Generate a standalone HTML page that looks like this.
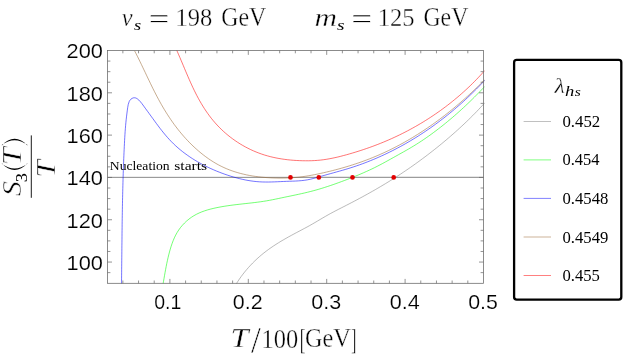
<!DOCTYPE html>
<html><head><meta charset="utf-8"><title>plot</title>
<style>
html,body{margin:0;padding:0;background:#fff;}
body{width:623px;height:360px;overflow:hidden;font-family:"Liberation Sans",sans-serif;}
svg{display:block;}
text{fill:#000;}
.tx{filter:grayscale(1);}
</style></head><body>
<svg width="623" height="360" viewBox="0 0 623 360" style="font-kerning:none">
<rect x="0" y="0" width="623" height="360" fill="#ffffff"/>
<defs><clipPath id="cp"><rect x="107.60" y="50.30" width="377.30" height="233.20"/></clipPath></defs>
<line x1="107.60" y1="177.35" x2="320" y2="177.35" stroke="#555" stroke-width="0.7"/>
<line x1="320" y1="177.4" x2="483.40" y2="177.4" stroke="#9c9c9c" stroke-width="1.15"/>
<g clip-path="url(#cp)" fill="none" stroke-width="0.55" stroke-linejoin="round">
<path d="M236.13,284.14 C236.39,283.72 237.16,282.46 237.69,281.63 C238.23,280.80 238.78,279.98 239.33,279.16 C239.89,278.34 240.46,277.53 241.04,276.73 C241.63,275.92 242.22,275.13 242.82,274.34 C243.43,273.55 244.04,272.76 244.67,271.99 C245.30,271.21 245.93,270.44 246.58,269.68 C247.23,268.92 247.88,268.17 248.55,267.42 C249.21,266.68 249.89,265.94 250.58,265.21 C251.26,264.48 251.96,263.76 252.66,263.04 C253.36,262.33 254.07,261.63 254.79,260.93 C255.51,260.24 256.24,259.55 256.98,258.87 C257.72,258.20 258.46,257.53 259.21,256.87 C259.96,256.21 260.72,255.56 261.49,254.92 C262.26,254.28 263.03,253.65 263.81,253.03 C264.59,252.41 265.38,251.80 266.17,251.20 C266.96,250.60 267.76,250.00 268.56,249.42 C269.37,248.84 270.18,248.26 270.99,247.70 C271.81,247.13 272.63,246.58 273.45,246.03 C274.28,245.48 275.11,244.93 275.94,244.40 C276.78,243.86 277.61,243.33 278.46,242.81 C279.30,242.29 280.15,241.77 280.99,241.26 C281.84,240.75 282.70,240.25 283.55,239.75 C284.41,239.25 285.27,238.76 286.13,238.27 C286.99,237.78 287.86,237.29 288.72,236.81 C289.59,236.33 290.46,235.85 291.33,235.38 C292.19,234.91 293.07,234.44 293.94,233.97 C294.81,233.50 295.69,233.04 296.56,232.57 C297.43,232.11 298.31,231.65 299.19,231.19 C300.06,230.73 300.94,230.27 301.81,229.81 C302.69,229.34 303.57,228.88 304.44,228.42 C305.32,227.95 306.20,227.48 307.07,227.00 C307.95,226.53 308.83,226.05 309.70,225.56 C310.58,225.07 311.46,224.57 312.33,224.06 C313.21,223.56 314.09,223.05 314.96,222.54 C315.84,222.03 316.71,221.51 317.59,220.99 C318.46,220.47 319.34,219.95 320.21,219.44 C321.09,218.92 321.96,218.40 322.84,217.89 C323.71,217.38 324.59,216.86 325.46,216.36 C326.34,215.86 327.21,215.36 328.09,214.86 C328.96,214.37 329.84,213.89 330.71,213.41 C331.59,212.94 332.46,212.47 333.34,212.00 C334.21,211.54 335.09,211.08 335.96,210.63 C336.84,210.17 337.71,209.72 338.59,209.27 C339.46,208.83 340.34,208.38 341.21,207.93 C342.09,207.49 342.96,207.04 343.84,206.60 C344.72,206.15 345.59,205.70 346.47,205.25 C347.34,204.81 348.22,204.35 349.10,203.90 C349.97,203.45 350.85,202.99 351.72,202.54 C352.60,202.08 353.47,201.62 354.35,201.16 C355.23,200.70 356.10,200.24 356.98,199.77 C357.85,199.31 358.73,198.84 359.60,198.37 C360.47,197.90 361.35,197.43 362.22,196.96 C363.09,196.48 363.96,196.01 364.84,195.53 C365.71,195.05 366.58,194.57 367.45,194.09 C368.32,193.60 369.19,193.12 370.05,192.63 C370.92,192.15 371.79,191.66 372.66,191.16 C373.52,190.67 374.39,190.18 375.25,189.68 C376.11,189.19 376.97,188.69 377.84,188.18 C378.70,187.68 379.56,187.18 380.41,186.67 C381.27,186.17 382.13,185.66 382.98,185.14 C383.84,184.63 384.69,184.12 385.54,183.60 C386.39,183.08 387.24,182.56 388.09,182.04 C388.94,181.52 389.79,180.99 390.63,180.47 C391.48,179.94 392.32,179.41 393.16,178.88 C394.00,178.34 394.84,177.81 395.68,177.27 C396.52,176.73 397.35,176.19 398.19,175.65 C399.02,175.10 399.86,174.56 400.69,174.01 C401.52,173.46 402.35,172.91 403.17,172.35 C404.00,171.80 404.83,171.24 405.65,170.68 C406.48,170.12 407.30,169.56 408.12,169.00 C408.94,168.43 409.76,167.87 410.58,167.30 C411.39,166.73 412.21,166.16 413.02,165.58 C413.84,165.01 414.65,164.43 415.46,163.85 C416.27,163.27 417.08,162.69 417.88,162.10 C418.69,161.52 419.50,160.93 420.30,160.34 C421.10,159.75 421.90,159.16 422.70,158.56 C423.50,157.97 424.30,157.37 425.10,156.77 C425.89,156.17 426.69,155.57 427.48,154.96 C428.27,154.36 429.06,153.75 429.85,153.14 C430.64,152.53 431.43,151.92 432.22,151.30 C433.00,150.69 433.79,150.07 434.57,149.45 C435.35,148.83 436.13,148.21 436.91,147.58 C437.69,146.95 438.46,146.33 439.24,145.70 C440.02,145.07 440.79,144.43 441.56,143.80 C442.33,143.16 443.10,142.53 443.87,141.89 C444.64,141.25 445.40,140.60 446.17,139.96 C446.93,139.31 447.69,138.67 448.45,138.02 C449.21,137.37 449.97,136.71 450.72,136.06 C451.48,135.40 452.23,134.75 452.98,134.09 C453.73,133.43 454.48,132.76 455.23,132.10 C455.97,131.43 456.72,130.77 457.46,130.10 C458.20,129.43 458.94,128.76 459.67,128.08 C460.41,127.41 461.14,126.73 461.87,126.05 C462.60,125.37 463.33,124.69 464.05,124.01 C464.78,123.32 465.50,122.64 466.22,121.95 C466.94,121.26 467.65,120.57 468.36,119.88 C469.08,119.18 469.79,118.49 470.49,117.79 C471.20,117.09 471.90,116.39 472.60,115.69 C473.30,114.98 474.00,114.28 474.69,113.57 C475.39,112.86 476.08,112.15 476.77,111.44 C477.45,110.73 478.14,110.01 478.81,109.29 C479.49,108.58 480.17,107.86 480.84,107.14 C481.52,106.41 482.18,105.69 482.85,104.96 C483.51,104.24 484.50,103.14 484.83,102.78" stroke="#808080"/>
<path d="M163.01,284.19 C163.10,283.71 163.36,282.24 163.53,281.26 C163.70,280.29 163.87,279.31 164.04,278.33 C164.21,277.35 164.38,276.37 164.55,275.39 C164.72,274.41 164.89,273.43 165.07,272.45 C165.25,271.47 165.42,270.49 165.60,269.51 C165.79,268.53 165.97,267.55 166.16,266.58 C166.35,265.60 166.54,264.62 166.74,263.64 C166.94,262.67 167.15,261.69 167.36,260.72 C167.57,259.74 167.79,258.77 168.02,257.80 C168.24,256.83 168.47,255.85 168.72,254.89 C168.96,253.92 169.21,252.95 169.47,251.98 C169.73,251.02 170.00,250.06 170.29,249.10 C170.57,248.14 170.86,247.18 171.17,246.22 C171.48,245.27 171.80,244.32 172.14,243.38 C172.47,242.44 172.82,241.50 173.20,240.58 C173.57,239.65 173.96,238.73 174.37,237.82 C174.79,236.92 175.22,236.02 175.67,235.14 C176.13,234.25 176.61,233.38 177.12,232.52 C177.62,231.67 178.16,230.82 178.72,230.00 C179.28,229.17 179.87,228.36 180.48,227.57 C181.10,226.78 181.74,226.00 182.41,225.25 C183.07,224.50 183.76,223.76 184.47,223.05 C185.18,222.34 185.91,221.65 186.66,220.99 C187.41,220.32 188.18,219.68 188.97,219.07 C189.76,218.46 190.56,217.87 191.38,217.31 C192.19,216.75 193.03,216.22 193.87,215.72 C194.71,215.21 195.57,214.74 196.43,214.29 C197.30,213.84 198.18,213.42 199.07,213.02 C199.96,212.62 200.86,212.24 201.77,211.89 C202.68,211.53 203.60,211.20 204.52,210.88 C205.45,210.56 206.39,210.27 207.33,209.98 C208.27,209.70 209.22,209.44 210.18,209.18 C211.14,208.93 212.10,208.69 213.07,208.47 C214.04,208.24 215.02,208.02 216.00,207.82 C216.98,207.61 217.96,207.41 218.95,207.22 C219.94,207.03 220.93,206.85 221.92,206.68 C222.92,206.50 223.92,206.34 224.91,206.18 C225.91,206.02 226.91,205.87 227.91,205.73 C228.92,205.58 229.92,205.44 230.92,205.31 C231.92,205.17 232.92,205.04 233.92,204.92 C234.92,204.79 235.92,204.67 236.92,204.55 C237.92,204.43 238.92,204.32 239.92,204.21 C240.91,204.09 241.91,203.98 242.90,203.87 C243.90,203.76 244.89,203.65 245.88,203.54 C246.88,203.43 247.87,203.33 248.86,203.21 C249.85,203.10 250.84,202.99 251.83,202.88 C252.82,202.76 253.81,202.64 254.80,202.52 C255.78,202.40 256.77,202.28 257.76,202.15 C258.74,202.02 259.73,201.89 260.71,201.75 C261.69,201.61 262.68,201.46 263.66,201.31 C264.64,201.16 265.63,201.00 266.61,200.83 C267.59,200.66 268.57,200.49 269.55,200.31 C270.53,200.12 271.51,199.93 272.49,199.74 C273.46,199.55 274.44,199.35 275.42,199.15 C276.39,198.95 277.37,198.74 278.35,198.54 C279.32,198.33 280.30,198.13 281.27,197.92 C282.25,197.72 283.22,197.51 284.19,197.31 C285.17,197.10 286.14,196.90 287.11,196.70 C288.08,196.50 289.05,196.30 290.02,196.10 C290.99,195.89 291.96,195.69 292.93,195.49 C293.90,195.29 294.87,195.09 295.84,194.88 C296.81,194.67 297.77,194.47 298.74,194.26 C299.70,194.05 300.67,193.84 301.63,193.62 C302.60,193.40 303.56,193.19 304.52,192.96 C305.49,192.74 306.45,192.51 307.41,192.28 C308.37,192.04 309.33,191.81 310.29,191.56 C311.25,191.32 312.21,191.07 313.17,190.81 C314.12,190.55 315.08,190.29 316.03,190.02 C316.99,189.75 317.94,189.47 318.90,189.19 C319.85,188.91 320.80,188.63 321.75,188.34 C322.71,188.04 323.66,187.75 324.60,187.45 C325.55,187.14 326.50,186.84 327.45,186.53 C328.40,186.22 329.34,185.90 330.29,185.58 C331.23,185.26 332.17,184.94 333.12,184.61 C334.06,184.28 335.00,183.95 335.94,183.62 C336.88,183.28 337.82,182.94 338.76,182.60 C339.69,182.26 340.63,181.92 341.56,181.57 C342.50,181.22 343.43,180.87 344.36,180.52 C345.30,180.17 346.23,179.81 347.16,179.46 C348.09,179.10 349.01,178.74 349.94,178.37 C350.87,178.01 351.79,177.64 352.72,177.27 C353.64,176.90 354.56,176.53 355.48,176.15 C356.41,175.77 357.33,175.39 358.24,175.01 C359.16,174.62 360.08,174.24 360.99,173.85 C361.91,173.45 362.82,173.06 363.73,172.66 C364.65,172.26 365.56,171.86 366.46,171.45 C367.37,171.04 368.28,170.63 369.19,170.21 C370.09,169.79 371.00,169.37 371.90,168.94 C372.80,168.51 373.70,168.07 374.60,167.63 C375.50,167.18 376.40,166.73 377.29,166.28 C378.19,165.82 379.08,165.35 379.97,164.89 C380.86,164.42 381.75,163.94 382.64,163.47 C383.53,162.99 384.42,162.51 385.30,162.02 C386.19,161.54 387.07,161.05 387.95,160.57 C388.83,160.08 389.71,159.59 390.59,159.10 C391.47,158.61 392.34,158.12 393.22,157.64 C394.09,157.15 394.96,156.66 395.83,156.18 C396.70,155.69 397.57,155.21 398.43,154.73 C399.30,154.24 400.16,153.76 401.02,153.28 C401.89,152.80 402.75,152.32 403.60,151.83 C404.46,151.35 405.32,150.87 406.17,150.38 C407.02,149.89 407.87,149.40 408.72,148.91 C409.57,148.42 410.42,147.92 411.26,147.42 C412.11,146.92 412.95,146.41 413.79,145.90 C414.63,145.39 415.47,144.87 416.31,144.35 C417.14,143.82 417.98,143.29 418.81,142.76 C419.64,142.22 420.47,141.68 421.30,141.14 C422.12,140.59 422.95,140.04 423.77,139.48 C424.59,138.92 425.41,138.36 426.23,137.79 C427.05,137.23 427.86,136.65 428.68,136.08 C429.49,135.50 430.30,134.92 431.11,134.33 C431.91,133.75 432.72,133.16 433.52,132.56 C434.33,131.97 435.13,131.37 435.93,130.76 C436.72,130.16 437.52,129.55 438.31,128.94 C439.11,128.33 439.90,127.72 440.68,127.10 C441.47,126.48 442.26,125.86 443.04,125.24 C443.82,124.61 444.60,123.98 445.38,123.35 C446.16,122.72 446.93,122.09 447.70,121.45 C448.48,120.81 449.25,120.17 450.01,119.53 C450.78,118.88 451.54,118.23 452.31,117.58 C453.07,116.93 453.83,116.28 454.58,115.62 C455.34,114.97 456.09,114.31 456.84,113.65 C457.59,112.98 458.34,112.32 459.08,111.65 C459.83,110.98 460.57,110.31 461.31,109.64 C462.05,108.96 462.78,108.29 463.52,107.61 C464.25,106.93 464.98,106.25 465.71,105.57 C466.43,104.88 467.16,104.20 467.88,103.51 C468.60,102.82 469.32,102.13 470.04,101.44 C470.75,100.74 471.46,100.05 472.17,99.35 C472.88,98.65 473.59,97.95 474.29,97.25 C475.00,96.55 475.70,95.84 476.39,95.14 C477.09,94.43 477.78,93.72 478.47,93.01 C479.16,92.30 479.85,91.59 480.54,90.88 C481.22,90.17 481.90,89.45 482.58,88.73 C483.26,88.01 484.27,86.93 484.61,86.57" stroke="#00ff00"/>
<path d="M121.52,284.21 C121.52,283.71 121.54,282.21 121.55,281.21 C121.56,280.21 121.57,279.21 121.58,278.21 C121.59,277.21 121.60,276.21 121.62,275.21 C121.63,274.22 121.64,273.22 121.65,272.22 C121.65,271.22 121.66,270.22 121.67,269.22 C121.68,268.22 121.69,267.23 121.70,266.23 C121.71,265.23 121.72,264.23 121.73,263.23 C121.74,262.24 121.75,261.24 121.76,260.24 C121.77,259.24 121.78,258.24 121.79,257.25 C121.80,256.25 121.81,255.25 121.82,254.25 C121.83,253.26 121.84,252.26 121.85,251.26 C121.86,250.26 121.86,249.26 121.87,248.27 C121.88,247.27 121.89,246.27 121.90,245.27 C121.91,244.28 121.92,243.28 121.94,242.28 C121.95,241.29 121.96,240.29 121.97,239.29 C121.98,238.29 121.99,237.30 122.00,236.30 C122.01,235.30 122.02,234.31 122.03,233.31 C122.04,232.31 122.06,231.31 122.07,230.32 C122.08,229.32 122.09,228.32 122.11,227.33 C122.12,226.33 122.13,225.33 122.14,224.34 C122.16,223.34 122.17,222.34 122.18,221.34 C122.20,220.35 122.21,219.35 122.23,218.35 C122.24,217.36 122.26,216.36 122.27,215.36 C122.29,214.37 122.30,213.37 122.32,212.37 C122.34,211.38 122.35,210.38 122.37,209.38 C122.39,208.38 122.40,207.39 122.42,206.39 C122.44,205.39 122.46,204.40 122.48,203.40 C122.50,202.40 122.51,201.41 122.53,200.41 C122.55,199.41 122.58,198.41 122.60,197.42 C122.62,196.42 122.64,195.42 122.66,194.43 C122.68,193.43 122.71,192.43 122.73,191.43 C122.75,190.44 122.78,189.44 122.80,188.44 C122.83,187.45 122.85,186.45 122.88,185.45 C122.90,184.45 122.93,183.46 122.96,182.46 C122.99,181.46 123.01,180.46 123.04,179.47 C123.07,178.47 123.10,177.47 123.13,176.47 C123.16,175.48 123.19,174.48 123.22,173.48 C123.26,172.48 123.29,171.48 123.32,170.49 C123.35,169.49 123.39,168.49 123.42,167.49 C123.46,166.49 123.49,165.50 123.53,164.50 C123.57,163.50 123.61,162.50 123.64,161.50 C123.68,160.51 123.72,159.51 123.76,158.51 C123.80,157.51 123.84,156.51 123.88,155.51 C123.93,154.51 123.97,153.52 124.01,152.52 C124.06,151.52 124.10,150.52 124.15,149.52 C124.19,148.52 124.24,147.52 124.29,146.52 C124.34,145.52 124.39,144.52 124.44,143.52 C124.49,142.53 124.54,141.53 124.59,140.53 C124.65,139.53 124.70,138.53 124.76,137.54 C124.82,136.54 124.88,135.54 124.94,134.55 C125.01,133.56 125.07,132.56 125.14,131.57 C125.21,130.58 125.28,129.59 125.36,128.61 C125.44,127.62 125.52,126.64 125.60,125.65 C125.69,124.67 125.77,123.69 125.87,122.72 C125.96,121.74 126.06,120.77 126.16,119.80 C126.27,118.83 126.37,117.86 126.49,116.89 C126.60,115.91 126.72,114.93 126.85,113.94 C126.97,112.94 127.10,111.93 127.24,110.89 C127.38,109.86 127.51,108.79 127.67,107.71 C127.84,106.64 127.98,105.49 128.24,104.46 C128.49,103.42 128.77,102.36 129.22,101.47 C129.67,100.59 130.27,99.76 130.93,99.16 C131.60,98.57 132.46,98.09 133.24,97.89 C134.01,97.69 134.82,97.74 135.59,97.95 C136.35,98.17 137.08,98.64 137.80,99.18 C138.52,99.71 139.22,100.43 139.90,101.16 C140.59,101.90 141.25,102.75 141.91,103.60 C142.56,104.44 143.20,105.35 143.83,106.22 C144.46,107.09 145.08,107.96 145.69,108.80 C146.31,109.64 146.91,110.46 147.51,111.28 C148.11,112.10 148.71,112.92 149.31,113.73 C149.90,114.55 150.49,115.37 151.09,116.19 C151.68,117.00 152.27,117.82 152.86,118.64 C153.45,119.45 154.04,120.26 154.63,121.07 C155.22,121.88 155.81,122.69 156.40,123.49 C156.99,124.30 157.59,125.10 158.18,125.89 C158.78,126.69 159.38,127.48 159.98,128.27 C160.59,129.06 161.20,129.84 161.81,130.62 C162.42,131.40 163.04,132.17 163.66,132.93 C164.29,133.70 164.92,134.46 165.55,135.21 C166.19,135.96 166.83,136.71 167.49,137.45 C168.14,138.18 168.80,138.92 169.47,139.64 C170.14,140.36 170.82,141.07 171.50,141.77 C172.19,142.48 172.89,143.17 173.60,143.86 C174.31,144.54 175.03,145.22 175.76,145.88 C176.49,146.55 177.22,147.21 177.97,147.86 C178.72,148.51 179.47,149.14 180.24,149.77 C181.00,150.41 181.78,151.03 182.56,151.64 C183.34,152.25 184.13,152.85 184.93,153.45 C185.73,154.04 186.53,154.63 187.35,155.20 C188.16,155.78 188.98,156.34 189.81,156.90 C190.64,157.46 191.48,158.01 192.32,158.55 C193.16,159.09 194.01,159.62 194.87,160.15 C195.72,160.67 196.58,161.18 197.45,161.69 C198.32,162.19 199.19,162.69 200.07,163.18 C200.95,163.66 201.84,164.14 202.73,164.61 C203.62,165.08 204.52,165.54 205.42,166.00 C206.32,166.45 207.22,166.89 208.13,167.33 C209.04,167.76 209.96,168.19 210.88,168.61 C211.80,169.03 212.72,169.44 213.64,169.84 C214.57,170.24 215.50,170.63 216.43,171.02 C217.37,171.40 218.30,171.78 219.24,172.15 C220.18,172.51 221.13,172.87 222.07,173.22 C223.02,173.58 223.96,173.92 224.91,174.25 C225.86,174.59 226.81,174.91 227.77,175.23 C228.72,175.55 229.68,175.86 230.63,176.16 C231.59,176.46 232.55,176.75 233.51,177.03 C234.47,177.31 235.43,177.58 236.40,177.84 C237.36,178.10 238.32,178.35 239.29,178.59 C240.26,178.83 241.23,179.06 242.20,179.28 C243.17,179.50 244.14,179.71 245.11,179.90 C246.08,180.09 247.05,180.28 248.03,180.45 C249.00,180.62 249.98,180.77 250.96,180.92 C251.93,181.06 252.91,181.19 253.89,181.31 C254.87,181.43 255.85,181.53 256.83,181.62 C257.81,181.71 258.79,181.78 259.78,181.84 C260.76,181.90 261.74,181.94 262.73,181.98 C263.71,182.01 264.70,182.02 265.68,182.03 C266.67,182.04 267.66,182.03 268.64,182.02 C269.63,182.01 270.62,181.99 271.61,181.96 C272.59,181.94 273.58,181.90 274.57,181.86 C275.56,181.83 276.55,181.78 277.54,181.74 C278.53,181.70 279.52,181.65 280.51,181.60 C281.50,181.56 282.49,181.51 283.48,181.47 C284.47,181.43 285.46,181.39 286.45,181.35 C287.45,181.32 288.44,181.29 289.43,181.26 C290.42,181.22 291.41,181.20 292.40,181.16 C293.39,181.13 294.38,181.09 295.37,181.05 C296.36,181.00 297.35,180.95 298.34,180.89 C299.33,180.82 300.32,180.75 301.31,180.65 C302.30,180.56 303.29,180.45 304.27,180.32 C305.26,180.19 306.25,180.05 307.24,179.87 C308.22,179.70 309.21,179.49 310.20,179.28 C311.18,179.06 312.17,178.81 313.15,178.55 C314.14,178.30 315.12,178.02 316.10,177.75 C317.08,177.47 318.07,177.18 319.05,176.89 C320.03,176.61 321.01,176.32 321.99,176.03 C322.97,175.75 323.94,175.47 324.92,175.19 C325.90,174.91 326.87,174.64 327.85,174.37 C328.82,174.10 329.79,173.83 330.77,173.56 C331.74,173.29 332.71,173.02 333.68,172.75 C334.65,172.49 335.61,172.22 336.58,171.95 C337.55,171.68 338.51,171.41 339.47,171.14 C340.44,170.87 341.40,170.60 342.36,170.32 C343.32,170.04 344.28,169.77 345.23,169.48 C346.19,169.20 347.14,168.91 348.10,168.62 C349.05,168.33 350.00,168.03 350.95,167.73 C351.90,167.42 352.85,167.12 353.79,166.80 C354.74,166.49 355.68,166.17 356.62,165.85 C357.57,165.53 358.50,165.20 359.44,164.86 C360.38,164.53 361.32,164.19 362.25,163.85 C363.18,163.50 364.12,163.16 365.05,162.80 C365.98,162.45 366.90,162.09 367.83,161.73 C368.75,161.36 369.68,161.00 370.60,160.62 C371.52,160.25 372.44,159.87 373.36,159.49 C374.28,159.11 375.19,158.72 376.11,158.33 C377.02,157.93 377.93,157.54 378.84,157.13 C379.75,156.73 380.66,156.33 381.56,155.91 C382.47,155.50 383.37,155.09 384.27,154.67 C385.17,154.25 386.07,153.82 386.97,153.39 C387.87,152.96 388.76,152.53 389.65,152.09 C390.54,151.65 391.43,151.20 392.32,150.75 C393.21,150.31 394.10,149.85 394.98,149.40 C395.86,148.94 396.74,148.48 397.62,148.01 C398.50,147.55 399.38,147.07 400.25,146.60 C401.13,146.13 402.00,145.65 402.87,145.16 C403.74,144.68 404.60,144.19 405.47,143.70 C406.33,143.21 407.20,142.71 408.06,142.21 C408.92,141.71 409.78,141.20 410.63,140.69 C411.49,140.18 412.34,139.67 413.19,139.15 C414.04,138.64 414.89,138.11 415.74,137.59 C416.58,137.06 417.43,136.53 418.27,136.00 C419.11,135.46 419.95,134.93 420.78,134.38 C421.62,133.84 422.45,133.30 423.28,132.75 C424.12,132.20 424.94,131.64 425.77,131.08 C426.60,130.53 427.42,129.96 428.24,129.40 C429.06,128.83 429.88,128.26 430.70,127.69 C431.51,127.11 432.33,126.54 433.14,125.96 C433.95,125.37 434.76,124.79 435.56,124.20 C436.37,123.61 437.17,123.02 437.97,122.42 C438.77,121.83 439.57,121.23 440.37,120.62 C441.16,120.02 441.95,119.41 442.74,118.80 C443.53,118.19 444.32,117.58 445.11,116.96 C445.89,116.34 446.67,115.72 447.45,115.09 C448.23,114.47 449.01,113.84 449.78,113.21 C450.56,112.57 451.33,111.94 452.09,111.30 C452.86,110.66 453.63,110.02 454.39,109.37 C455.15,108.72 455.91,108.08 456.67,107.42 C457.43,106.77 458.18,106.11 458.93,105.45 C459.68,104.79 460.43,104.13 461.18,103.47 C461.92,102.80 462.67,102.13 463.41,101.46 C464.15,100.79 464.88,100.11 465.62,99.43 C466.35,98.75 467.08,98.07 467.81,97.38 C468.54,96.70 469.27,96.01 469.99,95.32 C470.71,94.63 471.43,93.93 472.15,93.24 C472.86,92.54 473.58,91.84 474.29,91.13 C475.00,90.43 475.71,89.72 476.41,89.02 C477.11,88.31 477.82,87.59 478.52,86.88 C479.21,86.16 479.91,85.44 480.60,84.72 C481.29,84.00 481.98,83.28 482.67,82.55 C483.36,81.82 484.38,80.73 484.72,80.36" stroke="#0000ff"/>
<path d="M134.65,50.91 C134.89,51.36 135.58,52.71 136.04,53.61 C136.49,54.51 136.95,55.41 137.40,56.31 C137.85,57.21 138.29,58.11 138.74,59.01 C139.18,59.92 139.62,60.82 140.06,61.72 C140.50,62.63 140.94,63.53 141.37,64.43 C141.81,65.34 142.24,66.24 142.67,67.14 C143.10,68.05 143.53,68.95 143.96,69.86 C144.39,70.76 144.82,71.66 145.25,72.56 C145.68,73.47 146.11,74.37 146.53,75.27 C146.96,76.17 147.39,77.07 147.82,77.97 C148.25,78.87 148.68,79.77 149.11,80.67 C149.54,81.57 149.97,82.47 150.41,83.36 C150.84,84.26 151.27,85.15 151.71,86.05 C152.15,86.94 152.59,87.83 153.03,88.72 C153.47,89.61 153.92,90.50 154.37,91.39 C154.81,92.27 155.27,93.16 155.72,94.04 C156.18,94.92 156.63,95.80 157.10,96.68 C157.56,97.56 158.03,98.43 158.50,99.31 C158.97,100.18 159.45,101.05 159.93,101.92 C160.41,102.79 160.89,103.65 161.39,104.51 C161.88,105.37 162.37,106.23 162.88,107.09 C163.38,107.95 163.89,108.80 164.40,109.65 C164.91,110.50 165.43,111.34 165.96,112.19 C166.48,113.03 167.01,113.87 167.55,114.70 C168.08,115.54 168.63,116.37 169.18,117.20 C169.72,118.03 170.28,118.85 170.84,119.67 C171.40,120.49 171.97,121.31 172.54,122.12 C173.12,122.93 173.70,123.73 174.28,124.54 C174.87,125.34 175.46,126.14 176.07,126.93 C176.67,127.72 177.27,128.51 177.89,129.29 C178.50,130.07 179.12,130.85 179.75,131.62 C180.38,132.40 181.02,133.17 181.66,133.93 C182.31,134.69 182.96,135.45 183.61,136.20 C184.27,136.95 184.94,137.69 185.61,138.43 C186.29,139.17 186.97,139.91 187.66,140.63 C188.35,141.36 189.05,142.08 189.75,142.80 C190.46,143.51 191.17,144.22 191.89,144.93 C192.62,145.63 193.35,146.33 194.09,147.02 C194.82,147.71 195.57,148.39 196.33,149.07 C197.08,149.74 197.85,150.41 198.62,151.07 C199.39,151.73 200.17,152.38 200.96,153.03 C201.75,153.67 202.55,154.30 203.35,154.93 C204.15,155.55 204.96,156.17 205.78,156.77 C206.60,157.37 207.43,157.97 208.26,158.55 C209.09,159.13 209.93,159.70 210.78,160.26 C211.62,160.81 212.47,161.36 213.33,161.89 C214.19,162.42 215.06,162.94 215.93,163.44 C216.80,163.95 217.67,164.44 218.56,164.91 C219.44,165.38 220.33,165.84 221.22,166.29 C222.12,166.73 223.02,167.16 223.92,167.57 C224.82,167.99 225.73,168.38 226.65,168.77 C227.56,169.15 228.48,169.52 229.40,169.87 C230.33,170.23 231.26,170.57 232.19,170.90 C233.12,171.23 234.06,171.54 235.00,171.84 C235.94,172.14 236.89,172.43 237.83,172.70 C238.78,172.98 239.73,173.24 240.69,173.49 C241.65,173.74 242.60,173.98 243.57,174.20 C244.53,174.43 245.49,174.64 246.46,174.85 C247.43,175.05 248.40,175.24 249.37,175.42 C250.35,175.60 251.32,175.77 252.30,175.93 C253.28,176.09 254.26,176.24 255.24,176.38 C256.22,176.52 257.21,176.65 258.19,176.77 C259.18,176.89 260.16,177.01 261.15,177.11 C262.14,177.21 263.13,177.30 264.12,177.39 C265.11,177.47 266.11,177.55 267.10,177.62 C268.09,177.69 269.08,177.75 270.08,177.80 C271.07,177.85 272.07,177.90 273.06,177.94 C274.06,177.98 275.05,178.01 276.05,178.03 C277.04,178.05 278.04,178.07 279.03,178.08 C280.03,178.09 281.02,178.09 282.02,178.08 C283.01,178.08 284.01,178.06 285.00,178.04 C285.99,178.02 286.99,177.98 287.98,177.94 C288.98,177.90 289.97,177.85 290.97,177.80 C291.96,177.74 292.95,177.67 293.95,177.59 C294.94,177.52 295.93,177.43 296.93,177.33 C297.92,177.24 298.91,177.13 299.90,177.02 C300.90,176.90 301.89,176.77 302.88,176.64 C303.87,176.50 304.86,176.36 305.85,176.21 C306.84,176.05 307.83,175.89 308.82,175.72 C309.81,175.55 310.79,175.38 311.78,175.19 C312.77,175.01 313.75,174.82 314.74,174.63 C315.72,174.43 316.71,174.23 317.69,174.02 C318.68,173.82 319.66,173.61 320.64,173.39 C321.62,173.18 322.60,172.96 323.58,172.74 C324.56,172.51 325.54,172.29 326.52,172.06 C327.50,171.83 328.47,171.59 329.45,171.35 C330.43,171.12 331.40,170.87 332.37,170.63 C333.35,170.38 334.32,170.13 335.29,169.88 C336.26,169.62 337.23,169.37 338.20,169.10 C339.16,168.84 340.13,168.57 341.09,168.30 C342.06,168.03 343.02,167.76 343.99,167.48 C344.95,167.20 345.91,166.92 346.87,166.63 C347.83,166.34 348.78,166.05 349.74,165.75 C350.69,165.45 351.65,165.15 352.60,164.85 C353.55,164.54 354.50,164.23 355.45,163.92 C356.40,163.60 357.35,163.28 358.29,162.96 C359.24,162.63 360.18,162.30 361.12,161.97 C362.06,161.63 363.00,161.30 363.94,160.95 C364.88,160.61 365.81,160.26 366.75,159.91 C367.68,159.55 368.61,159.20 369.54,158.83 C370.47,158.47 371.40,158.10 372.32,157.73 C373.24,157.35 374.17,156.98 375.09,156.59 C376.01,156.21 376.92,155.82 377.84,155.43 C378.76,155.03 379.67,154.63 380.58,154.23 C381.49,153.82 382.40,153.42 383.31,153.00 C384.21,152.59 385.12,152.17 386.02,151.74 C386.92,151.32 387.82,150.89 388.72,150.46 C389.61,150.03 390.51,149.59 391.40,149.14 C392.29,148.70 393.18,148.25 394.07,147.80 C394.96,147.35 395.84,146.89 396.73,146.43 C397.61,145.97 398.49,145.50 399.37,145.03 C400.25,144.56 401.12,144.08 402.00,143.60 C402.87,143.12 403.74,142.64 404.61,142.15 C405.48,141.66 406.34,141.17 407.21,140.67 C408.07,140.17 408.93,139.67 409.79,139.16 C410.65,138.66 411.51,138.15 412.36,137.63 C413.22,137.12 414.07,136.60 414.92,136.07 C415.77,135.55 416.62,135.02 417.46,134.49 C418.31,133.96 419.15,133.43 419.99,132.89 C420.83,132.35 421.67,131.81 422.50,131.26 C423.34,130.71 424.17,130.16 425.00,129.60 C425.83,129.05 426.66,128.49 427.49,127.93 C428.31,127.37 429.13,126.80 429.96,126.23 C430.78,125.66 431.59,125.09 432.41,124.51 C433.23,123.93 434.04,123.35 434.85,122.77 C435.66,122.18 436.47,121.59 437.28,121.00 C438.08,120.41 438.89,119.81 439.69,119.22 C440.49,118.62 441.29,118.01 442.08,117.41 C442.88,116.80 443.67,116.20 444.46,115.58 C445.25,114.97 446.04,114.36 446.83,113.74 C447.61,113.12 448.40,112.50 449.18,111.87 C449.96,111.25 450.74,110.62 451.52,109.99 C452.29,109.36 453.07,108.72 453.84,108.09 C454.61,107.45 455.38,106.81 456.14,106.16 C456.91,105.52 457.67,104.87 458.43,104.23 C459.19,103.58 459.95,102.92 460.71,102.27 C461.46,101.62 462.22,100.96 462.97,100.30 C463.72,99.64 464.47,98.97 465.21,98.31 C465.96,97.64 466.70,96.97 467.44,96.30 C468.18,95.63 468.92,94.96 469.66,94.28 C470.39,93.61 471.13,92.93 471.86,92.25 C472.59,91.57 473.32,90.88 474.04,90.20 C474.77,89.51 475.49,88.82 476.21,88.13 C476.93,87.44 477.65,86.75 478.36,86.05 C479.08,85.36 479.79,84.66 480.50,83.96 C481.21,83.26 481.92,82.56 482.62,81.86 C483.32,81.15 484.37,80.09 484.73,79.74" stroke="#996633"/>
<path d="M176.36,49.51 C176.56,49.95 177.16,51.28 177.56,52.17 C177.95,53.06 178.34,53.95 178.73,54.85 C179.13,55.75 179.51,56.65 179.90,57.55 C180.29,58.45 180.67,59.36 181.06,60.26 C181.44,61.17 181.83,62.08 182.21,62.99 C182.59,63.90 182.98,64.81 183.36,65.72 C183.74,66.63 184.13,67.55 184.51,68.46 C184.90,69.38 185.28,70.29 185.67,71.21 C186.06,72.12 186.44,73.04 186.84,73.95 C187.23,74.87 187.62,75.78 188.01,76.70 C188.41,77.61 188.81,78.53 189.21,79.44 C189.61,80.35 190.01,81.26 190.42,82.17 C190.83,83.08 191.24,83.99 191.66,84.90 C192.07,85.81 192.49,86.71 192.92,87.61 C193.34,88.51 193.78,89.41 194.21,90.31 C194.65,91.21 195.09,92.10 195.54,92.99 C195.99,93.88 196.44,94.77 196.90,95.65 C197.36,96.53 197.83,97.41 198.31,98.29 C198.78,99.16 199.26,100.03 199.75,100.90 C200.24,101.77 200.74,102.63 201.25,103.48 C201.75,104.34 202.27,105.19 202.79,106.04 C203.31,106.88 203.85,107.72 204.38,108.56 C204.92,109.39 205.47,110.22 206.03,111.04 C206.59,111.86 207.15,112.68 207.73,113.48 C208.30,114.29 208.89,115.09 209.48,115.89 C210.08,116.68 210.68,117.47 211.29,118.25 C211.91,119.02 212.53,119.80 213.16,120.56 C213.80,121.32 214.44,122.07 215.10,122.82 C215.75,123.57 216.41,124.30 217.09,125.03 C217.76,125.76 218.45,126.48 219.14,127.18 C219.84,127.89 220.54,128.59 221.26,129.28 C221.97,129.97 222.70,130.66 223.43,131.33 C224.17,132.00 224.91,132.66 225.67,133.31 C226.42,133.96 227.18,134.60 227.95,135.23 C228.72,135.86 229.50,136.48 230.29,137.09 C231.08,137.70 231.87,138.30 232.68,138.89 C233.48,139.48 234.29,140.06 235.11,140.62 C235.93,141.19 236.76,141.74 237.60,142.29 C238.43,142.83 239.27,143.37 240.12,143.89 C240.97,144.41 241.83,144.92 242.69,145.42 C243.55,145.92 244.42,146.40 245.30,146.88 C246.18,147.35 247.06,147.81 247.95,148.26 C248.83,148.72 249.73,149.15 250.63,149.58 C251.53,150.00 252.43,150.42 253.34,150.82 C254.25,151.22 255.17,151.61 256.09,151.98 C257.01,152.36 257.93,152.72 258.86,153.07 C259.79,153.42 260.73,153.75 261.67,154.07 C262.60,154.39 263.55,154.70 264.49,155.00 C265.44,155.29 266.39,155.57 267.34,155.84 C268.30,156.11 269.26,156.37 270.22,156.61 C271.18,156.85 272.14,157.09 273.11,157.30 C274.07,157.52 275.04,157.73 276.01,157.93 C276.99,158.12 277.96,158.30 278.94,158.48 C279.91,158.65 280.89,158.81 281.87,158.96 C282.85,159.11 283.83,159.25 284.82,159.38 C285.80,159.51 286.78,159.63 287.77,159.75 C288.75,159.86 289.74,159.96 290.73,160.05 C291.72,160.14 292.70,160.22 293.69,160.30 C294.68,160.37 295.67,160.43 296.66,160.49 C297.65,160.55 298.64,160.60 299.62,160.64 C300.61,160.68 301.60,160.71 302.59,160.74 C303.58,160.76 304.56,160.78 305.55,160.78 C306.54,160.79 307.52,160.79 308.51,160.78 C309.49,160.76 310.48,160.74 311.46,160.71 C312.45,160.68 313.43,160.63 314.41,160.58 C315.40,160.53 316.38,160.46 317.36,160.38 C318.34,160.30 319.32,160.21 320.30,160.11 C321.28,160.01 322.26,159.89 323.24,159.76 C324.22,159.63 325.20,159.49 326.17,159.34 C327.15,159.18 328.13,159.02 329.10,158.84 C330.08,158.67 331.05,158.48 332.02,158.28 C333.00,158.09 333.97,157.88 334.94,157.67 C335.91,157.45 336.88,157.23 337.85,157.00 C338.82,156.77 339.79,156.53 340.75,156.29 C341.72,156.04 342.69,155.79 343.65,155.53 C344.62,155.28 345.58,155.01 346.54,154.75 C347.50,154.48 348.46,154.21 349.42,153.93 C350.38,153.66 351.34,153.38 352.30,153.09 C353.25,152.81 354.21,152.52 355.16,152.23 C356.11,151.94 357.07,151.64 358.02,151.34 C358.97,151.04 359.92,150.74 360.87,150.43 C361.81,150.12 362.76,149.81 363.70,149.49 C364.65,149.18 365.59,148.85 366.53,148.53 C367.47,148.20 368.41,147.87 369.35,147.54 C370.29,147.21 371.23,146.87 372.16,146.52 C373.10,146.18 374.03,145.83 374.96,145.48 C375.89,145.13 376.82,144.77 377.75,144.41 C378.67,144.05 379.60,143.69 380.52,143.32 C381.45,142.95 382.37,142.57 383.29,142.19 C384.21,141.81 385.13,141.43 386.04,141.04 C386.96,140.65 387.87,140.26 388.78,139.86 C389.69,139.46 390.60,139.06 391.51,138.65 C392.42,138.25 393.32,137.83 394.22,137.42 C395.13,137.00 396.03,136.58 396.93,136.15 C397.82,135.73 398.72,135.30 399.61,134.86 C400.51,134.42 401.40,133.98 402.29,133.54 C403.18,133.09 404.07,132.65 404.95,132.19 C405.83,131.74 406.72,131.28 407.60,130.82 C408.47,130.35 409.35,129.88 410.23,129.41 C411.10,128.94 411.97,128.46 412.84,127.98 C413.71,127.50 414.58,127.01 415.44,126.52 C416.31,126.03 417.17,125.54 418.03,125.04 C418.89,124.54 419.74,124.03 420.60,123.53 C421.45,123.02 422.30,122.50 423.15,121.99 C424.00,121.47 424.84,120.95 425.68,120.42 C426.52,119.89 427.36,119.36 428.20,118.83 C429.04,118.29 429.87,117.75 430.70,117.21 C431.53,116.66 432.36,116.11 433.18,115.56 C434.01,115.01 434.83,114.45 435.65,113.89 C436.47,113.33 437.28,112.76 438.09,112.19 C438.91,111.62 439.72,111.04 440.52,110.47 C441.33,109.89 442.13,109.30 442.93,108.71 C443.73,108.13 444.53,107.53 445.32,106.94 C446.11,106.34 446.90,105.74 447.69,105.14 C448.47,104.53 449.26,103.92 450.04,103.31 C450.82,102.69 451.59,102.08 452.36,101.45 C453.14,100.83 453.91,100.20 454.67,99.57 C455.44,98.94 456.20,98.31 456.96,97.67 C457.72,97.03 458.47,96.39 459.22,95.74 C459.97,95.09 460.72,94.44 461.47,93.78 C462.21,93.13 462.95,92.47 463.69,91.81 C464.42,91.14 465.16,90.47 465.89,89.80 C466.62,89.13 467.34,88.45 468.06,87.77 C468.78,87.09 469.50,86.41 470.22,85.72 C470.93,85.03 471.64,84.34 472.35,83.64 C473.05,82.94 473.75,82.24 474.45,81.54 C475.15,80.83 475.84,80.12 476.53,79.41 C477.22,78.70 477.91,77.98 478.59,77.26 C479.27,76.54 479.95,75.81 480.62,75.08 C481.30,74.35 481.97,73.62 482.63,72.88 C483.30,72.15 484.28,71.03 484.61,70.66" stroke="#ff0000"/>
</g>
<circle cx="290.5" cy="177.4" r="2.35" fill="#e20000"/>
<circle cx="318.8" cy="177.4" r="2.35" fill="#e20000"/>
<circle cx="352.5" cy="177.4" r="2.35" fill="#e20000"/>
<circle cx="393.7" cy="177.4" r="2.35" fill="#e20000"/>
<g stroke="#666" stroke-width="0.75" fill="none">
<rect x="107.60" y="50.50" width="375.80" height="232.80"/>
<path d="M122.86,283.30 v-2.80 M122.86,50.50 v2.80 M138.54,283.30 v-2.80 M138.54,50.50 v2.80 M154.22,283.30 v-2.80 M154.22,50.50 v2.80 M169.90,283.30 v-4.40 M169.90,50.50 v4.40 M185.58,283.30 v-2.80 M185.58,50.50 v2.80 M201.26,283.30 v-2.80 M201.26,50.50 v2.80 M216.94,283.30 v-2.80 M216.94,50.50 v2.80 M232.62,283.30 v-2.80 M232.62,50.50 v2.80 M248.30,283.30 v-4.40 M248.30,50.50 v4.40 M263.98,283.30 v-2.80 M263.98,50.50 v2.80 M279.66,283.30 v-2.80 M279.66,50.50 v2.80 M295.34,283.30 v-2.80 M295.34,50.50 v2.80 M311.02,283.30 v-2.80 M311.02,50.50 v2.80 M326.70,283.30 v-4.40 M326.70,50.50 v4.40 M342.38,283.30 v-2.80 M342.38,50.50 v2.80 M358.06,283.30 v-2.80 M358.06,50.50 v2.80 M373.74,283.30 v-2.80 M373.74,50.50 v2.80 M389.42,283.30 v-2.80 M389.42,50.50 v2.80 M405.10,283.30 v-4.40 M405.10,50.50 v4.40 M420.78,283.30 v-2.80 M420.78,50.50 v2.80 M436.46,283.30 v-2.80 M436.46,50.50 v2.80 M452.14,283.30 v-2.80 M452.14,50.50 v2.80 M467.82,283.30 v-2.80 M467.82,50.50 v2.80 M107.60,272.63 h2.80 M483.40,272.63 h-2.80 M107.60,262.05 h4.40 M483.40,262.05 h-4.40 M107.60,251.47 h2.80 M483.40,251.47 h-2.80 M107.60,240.89 h2.80 M483.40,240.89 h-2.80 M107.60,230.32 h2.80 M483.40,230.32 h-2.80 M107.60,219.74 h4.40 M483.40,219.74 h-4.40 M107.60,209.16 h2.80 M483.40,209.16 h-2.80 M107.60,198.59 h2.80 M483.40,198.59 h-2.80 M107.60,188.01 h2.80 M483.40,188.01 h-2.80 M107.60,177.43 h4.40 M483.40,177.43 h-4.40 M107.60,166.85 h2.80 M483.40,166.85 h-2.80 M107.60,156.27 h2.80 M483.40,156.27 h-2.80 M107.60,145.70 h2.80 M483.40,145.70 h-2.80 M107.60,135.12 h4.40 M483.40,135.12 h-4.40 M107.60,124.54 h2.80 M483.40,124.54 h-2.80 M107.60,113.97 h2.80 M483.40,113.97 h-2.80 M107.60,103.39 h2.80 M483.40,103.39 h-2.80 M107.60,92.81 h4.40 M483.40,92.81 h-4.40 M107.60,82.23 h2.80 M483.40,82.23 h-2.80 M107.60,71.66 h2.80 M483.40,71.66 h-2.80 M107.60,61.08 h2.80 M483.40,61.08 h-2.80" stroke-width="0.7"/>
</g>
<g class="tx">
<text transform="translate(66.60,269.95) scale(1.0711,1)" font-family="'Liberation Sans', sans-serif" font-size="20.34" stroke="#fff" stroke-width="0.16">100</text>
<text transform="translate(66.60,227.64) scale(1.0711,1)" font-family="'Liberation Sans', sans-serif" font-size="20.34" stroke="#fff" stroke-width="0.16">120</text>
<text transform="translate(66.60,185.33) scale(1.0711,1)" font-family="'Liberation Sans', sans-serif" font-size="20.34" stroke="#fff" stroke-width="0.16">140</text>
<text transform="translate(66.60,143.02) scale(1.0711,1)" font-family="'Liberation Sans', sans-serif" font-size="20.34" stroke="#fff" stroke-width="0.16">160</text>
<text transform="translate(66.60,100.71) scale(1.0711,1)" font-family="'Liberation Sans', sans-serif" font-size="20.34" stroke="#fff" stroke-width="0.16">180</text>
<text transform="translate(66.60,58.40) scale(1.0711,1)" font-family="'Liberation Sans', sans-serif" font-size="20.34" stroke="#fff" stroke-width="0.16">200</text>
<text transform="translate(154.24,308.55) scale(0.9362,1)" font-family="'Liberation Sans', sans-serif" font-size="20.83" stroke="#fff" stroke-width="0.17">0.1</text>
<text transform="translate(232.86,308.55) scale(1.0295,1)" font-family="'Liberation Sans', sans-serif" font-size="20.83" stroke="#fff" stroke-width="0.17">0.2</text>
<text transform="translate(311.26,308.55) scale(1.0319,1)" font-family="'Liberation Sans', sans-serif" font-size="20.83" stroke="#fff" stroke-width="0.17">0.3</text>
<text transform="translate(389.76,308.55) scale(1.0350,1)" font-family="'Liberation Sans', sans-serif" font-size="20.83" stroke="#fff" stroke-width="0.17">0.4</text>
<text transform="translate(468.16,308.55) scale(1.0267,1)" font-family="'Liberation Sans', sans-serif" font-size="20.83" stroke="#fff" stroke-width="0.17">0.5</text>
<text transform="translate(109.81,169.78) scale(1.1042,1)" font-family="'Liberation Serif', serif" font-size="12.36">Nucleation</text>
<text transform="translate(174.26,169.78) scale(1.2230,1)" font-family="'Liberation Serif', serif" font-size="12.75">starts</text>
<text transform="translate(121.87,25.96) scale(1.0036,1)" font-family="'Liberation Serif', serif" font-size="24.32" font-style="italic" stroke="#fff" stroke-width="0.34">v</text>
<text transform="translate(134.07,30.35) scale(1.2332,1)" font-family="'Liberation Serif', serif" font-size="14.97" font-style="italic">s</text>
<text transform="translate(148.78,28.33) scale(1.3431,1)" font-family="'Liberation Serif', serif" font-size="27.20" stroke="#fff" stroke-width="0.38">=</text>
<text transform="translate(175.44,26.26) scale(1.0031,1)" font-family="'Liberation Serif', serif" font-size="24.45" stroke="#fff" stroke-width="0.34">198</text>
<text transform="translate(221.22,26.20) scale(0.8997,1)" font-family="'Liberation Serif', serif" font-size="26.58" stroke="#fff" stroke-width="0.37">GeV</text>
<text transform="translate(314.47,26.20) scale(1.2900,1)" font-family="'Liberation Serif', serif" font-size="24.19" font-style="italic" stroke="#fff" stroke-width="0.34">m</text>
<text transform="translate(337.06,30.35) scale(1.2910,1)" font-family="'Liberation Serif', serif" font-size="14.97" font-style="italic">s</text>
<text transform="translate(351.16,28.33) scale(1.3589,1)" font-family="'Liberation Serif', serif" font-size="27.20" stroke="#fff" stroke-width="0.38">=</text>
<text transform="translate(377.64,26.26) scale(0.9994,1)" font-family="'Liberation Serif', serif" font-size="24.56" stroke="#fff" stroke-width="0.34">125</text>
<text transform="translate(423.42,26.20) scale(0.8956,1)" font-family="'Liberation Serif', serif" font-size="26.58" stroke="#fff" stroke-width="0.37">GeV</text>
<text transform="translate(230.58,347.30) scale(1.2183,1)" font-family="'Liberation Serif', serif" font-size="26.57" font-style="italic" stroke="#fff" stroke-width="0.37">T</text>
<text transform="translate(251.00,352.74) scale(0.9438,1)" font-family="'Liberation Serif', serif" font-size="37.37" stroke="#fff" stroke-width="0.52">/</text>
<text transform="translate(261.55,347.64) scale(0.9271,1)" font-family="'Liberation Serif', serif" font-size="26.38" stroke="#fff" stroke-width="0.37">100</text>
<text transform="translate(299.67,349.06) scale(0.5501,1)" font-family="'Liberation Serif', serif" font-size="30.21" stroke="#fff" stroke-width="0.42">[</text>
<text transform="translate(305.00,347.49) scale(0.8913,1)" font-family="'Liberation Serif', serif" font-size="27.32" stroke="#fff" stroke-width="0.38">GeV</text>
<text transform="translate(351.25,349.06) scale(0.5055,1)" font-family="'Liberation Serif', serif" font-size="30.21" stroke="#fff" stroke-width="0.42">]</text>
<text transform="translate(562.46,127.01) scale(1.0089,1)" font-family="'Liberation Serif', serif" font-size="16.64">0.452</text>
<text transform="translate(562.47,165.41) scale(0.9907,1)" font-family="'Liberation Serif', serif" font-size="16.64">0.454</text>
<text transform="translate(562.46,203.91) scale(1.0026,1)" font-family="'Liberation Serif', serif" font-size="16.64">0.4548</text>
<text transform="translate(562.46,242.51) scale(1.0037,1)" font-family="'Liberation Serif', serif" font-size="16.64">0.4549</text>
<text transform="translate(562.47,281.01) scale(1.0014,1)" font-family="'Liberation Serif', serif" font-size="16.64">0.455</text>
<text transform="translate(554.59,93.00) scale(1.0920,1)" font-family="'Liberation Serif', serif" font-size="22.01" font-style="italic" stroke="#fff" stroke-width="0.31">λ</text>
<text transform="translate(564.92,96.30) scale(1.2600,1)" font-family="'Liberation Serif', serif" font-size="14.84" font-style="italic">h</text>
<text transform="translate(574.81,96.27) scale(1.2083,1)" font-family="'Liberation Serif', serif" font-size="12.89" font-style="italic">s</text>
<g transform="translate(21.4,197.5) rotate(-90)">
<text transform="translate(1.25,-0.07) scale(1.0881,1)" font-family="'Liberation Serif', serif" font-size="27.83" font-style="italic" stroke="#fff" stroke-width="0.56">S</text>
<text transform="translate(15.22,5.73) scale(1.0749,1)" font-family="'Liberation Serif', serif" font-size="17.12">3</text>
<path d="M34.30,-19.50 C25.37,-11.88 25.37,-1.72 34.30,5.90 L33.75,5.90 C27.35,-1.97 27.35,-11.63 33.75,-19.50 Z" fill="#000"/>
<text transform="translate(32.32,0.00) scale(1.1909,1)" font-family="'Liberation Serif', serif" font-size="26.73" font-style="italic" stroke="#fff" stroke-width="0.53">T</text>
<path d="M52.10,-19.50 C60.90,-11.88 60.90,-1.72 52.10,5.90 L52.65,5.90 C58.92,-1.97 58.92,-11.63 52.65,-19.50 Z" fill="#000"/>
<text transform="translate(19.72,34.00) scale(1.1909,1)" font-family="'Liberation Serif', serif" font-size="26.73" font-style="italic" stroke="#fff" stroke-width="0.53">T</text>
</g>
</g>
<line x1="31.3" y1="135.4" x2="31.3" y2="197.8" stroke="#000" stroke-width="0.9"/>
<rect x="514.1" y="59.9" width="107.2" height="239.7" rx="2.6" ry="2.6" fill="none" stroke="#000" stroke-width="2.3"/>
<line x1="523.6" y1="121.50" x2="551" y2="121.50" stroke="#808080" stroke-width="0.5"/>
<line x1="523.6" y1="159.90" x2="551" y2="159.90" stroke="#00ff00" stroke-width="0.5"/>
<line x1="523.6" y1="198.40" x2="551" y2="198.40" stroke="#0000ff" stroke-width="0.5"/>
<line x1="523.6" y1="237.00" x2="551" y2="237.00" stroke="#996633" stroke-width="0.5"/>
<line x1="523.6" y1="275.50" x2="551" y2="275.50" stroke="#ff0000" stroke-width="0.5"/>
</svg>
</body></html>
